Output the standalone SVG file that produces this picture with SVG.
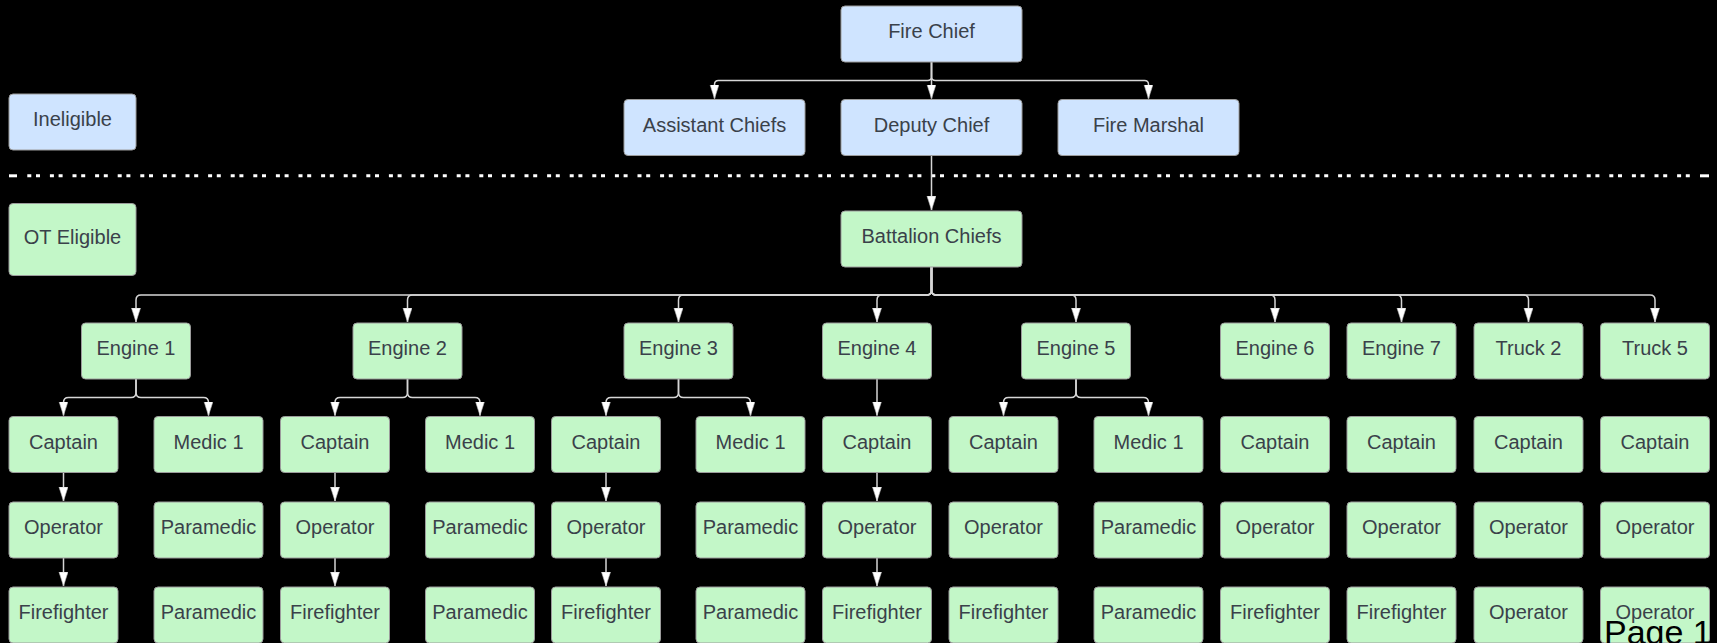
<svg xmlns="http://www.w3.org/2000/svg" width="1717" height="643" viewBox="0 0 1717 643">
  <defs>
    <style>
      .bg { fill: #000000; }
      .box { stroke: #9c9c9c; stroke-width: 1; }
      .blue { fill: #cfe4ff; }
      .green { fill: #c3f7c8; }
      .lbl { font-family: "Liberation Sans", Arial, sans-serif; font-size: 20px; fill: #3a414a; text-anchor: middle; }
      .wire { fill: none; stroke: #d6d6d6; stroke-width: 1.5; marker-end: url(#arrow); }
      .divider { stroke: #ffffff; stroke-width: 3; fill: none; }
      .page { font-family: "Liberation Sans", Arial, sans-serif; font-size: 34px; fill: #000000; }
    </style>
    <marker id="arrow" markerUnits="userSpaceOnUse" markerWidth="15" markerHeight="10" refX="14" refY="4.5" orient="auto">
      <path d="M0,0 L14,4.5 L0,9 Z" fill="#ffffff" stroke="#bdbdbd" stroke-width="0.6"/>
    </marker>
  </defs>

  <rect class="bg" x="0" y="0" width="1717" height="643"/>

  <!-- boundary between the ineligible and overtime-eligible ranks -->
  <g id="divider">
    <line class="divider" x1="9" y1="175.8" x2="17" y2="175.8"/>
    <line class="divider" x1="27.3" y1="175.8" x2="1692" y2="175.8" stroke-dasharray="4 4.7 4 9.9"/>
    <line class="divider" x1="1700" y1="175.8" x2="1709" y2="175.8"/>
  </g>

  <!-- reporting lines -->
  <g id="connectors">
    <path class="wire" d="M931.5 62 V76.5 Q931.5 80.5 927.5 80.5 H718.5 Q714.5 80.5 714.5 84.5 V98.5"/>
    <path class="wire" d="M931.5 62 V98.5"/>
    <path class="wire" d="M931.5 62 V76.5 Q931.5 80.5 935.5 80.5 H1144.5 Q1148.5 80.5 1148.5 84.5 V98.5"/>
    <path class="wire" d="M931.5 155.5 V210"/>

    <path class="wire" d="M931.5 267 V290 Q931.5 295 926.5 295 H141 Q136 295 136 300 V322"/>
    <path class="wire" d="M931.5 267 V290 Q931.5 295 926.5 295 H412.5 Q407.5 295 407.5 300 V322"/>
    <path class="wire" d="M931.5 267 V290 Q931.5 295 926.5 295 H683.5 Q678.5 295 678.5 300 V322"/>
    <path class="wire" d="M931.5 267 V290 Q931.5 295 926.5 295 H882 Q877 295 877 300 V322"/>
    <path class="wire" d="M931.5 267 V290 Q931.5 295 936.5 295 H1071 Q1076 295 1076 300 V322"/>
    <path class="wire" d="M931.5 267 V290 Q931.5 295 936.5 295 H1270 Q1275 295 1275 300 V322"/>
    <path class="wire" d="M931.5 267 V290 Q931.5 295 936.5 295 H1396.5 Q1401.5 295 1401.5 300 V322"/>
    <path class="wire" d="M931.5 267 V290 Q931.5 295 936.5 295 H1523.5 Q1528.5 295 1528.5 300 V322"/>
    <path class="wire" d="M931.5 267 V290 Q931.5 295 936.5 295 H1650 Q1655 295 1655 300 V322"/>

    <path class="wire" d="M136 379 V392.5 Q136 397.5 131 397.5 H68.5 Q63.5 397.5 63.5 402.5 V415.5"/>
    <path class="wire" d="M136 379 V392.5 Q136 397.5 141 397.5 H203.5 Q208.5 397.5 208.5 402.5 V415.5"/>
    <path class="wire" d="M407.5 379 V392.5 Q407.5 397.5 402.5 397.5 H340 Q335 397.5 335 402.5 V415.5"/>
    <path class="wire" d="M407.5 379 V392.5 Q407.5 397.5 412.5 397.5 H475 Q480 397.5 480 402.5 V415.5"/>
    <path class="wire" d="M678.5 379 V392.5 Q678.5 397.5 673.5 397.5 H611 Q606 397.5 606 402.5 V415.5"/>
    <path class="wire" d="M678.5 379 V392.5 Q678.5 397.5 683.5 397.5 H745.5 Q750.5 397.5 750.5 402.5 V415.5"/>
    <path class="wire" d="M877 379 V415.5"/>
    <path class="wire" d="M1076 379 V392.5 Q1076 397.5 1071 397.5 H1008.5 Q1003.5 397.5 1003.5 402.5 V415.5"/>
    <path class="wire" d="M1076 379 V392.5 Q1076 397.5 1081 397.5 H1143.5 Q1148.5 397.5 1148.5 402.5 V415.5"/>

    <path class="wire" d="M63.5 472.5 V501"/>
    <path class="wire" d="M63.5 558 V586"/>
    <path class="wire" d="M335 472.5 V501"/>
    <path class="wire" d="M335 558 V586"/>
    <path class="wire" d="M606 472.5 V501"/>
    <path class="wire" d="M606 558 V586"/>
    <path class="wire" d="M877 472.5 V501"/>
    <path class="wire" d="M877 558 V586"/>
  </g>

  <!-- legend -->
  <g id="legend-ineligible"><rect class="box blue" x="9" y="94" width="127" height="56" rx="4"/><text class="lbl" x="72.5" y="126.3">Ineligible</text></g>
  <g id="legend-ot-eligible"><rect class="box green" x="9" y="203.5" width="127" height="72" rx="4"/><text class="lbl" x="72.5" y="243.8">OT Eligible</text></g>

  <!-- command staff -->
  <g id="fire-chief"><rect class="box blue" x="841" y="6" width="181" height="56" rx="4"/><text class="lbl" x="931.5" y="38.3">Fire Chief</text></g>
  <g id="assistant-chiefs"><rect class="box blue" x="624" y="99.5" width="181" height="56" rx="4"/><text class="lbl" x="714.5" y="131.8">Assistant Chiefs</text></g>
  <g id="deputy-chief"><rect class="box blue" x="841" y="99.5" width="181" height="56" rx="4"/><text class="lbl" x="931.5" y="131.8">Deputy Chief</text></g>
  <g id="fire-marshal"><rect class="box blue" x="1058" y="99.5" width="181" height="56" rx="4"/><text class="lbl" x="1148.5" y="131.8">Fire Marshal</text></g>
  <g id="battalion-chiefs"><rect class="box green" x="841" y="211" width="181" height="56" rx="4"/><text class="lbl" x="931.5" y="243.3">Battalion Chiefs</text></g>

  <!-- apparatus -->
  <g id="engine-1"><rect class="box green" x="81.5" y="323" width="109" height="56" rx="4"/><text class="lbl" x="136" y="355.3">Engine 1</text></g>
  <g id="engine-2"><rect class="box green" x="353" y="323" width="109" height="56" rx="4"/><text class="lbl" x="407.5" y="355.3">Engine 2</text></g>
  <g id="engine-3"><rect class="box green" x="624" y="323" width="109" height="56" rx="4"/><text class="lbl" x="678.5" y="355.3">Engine 3</text></g>
  <g id="engine-4"><rect class="box green" x="822.5" y="323" width="109" height="56" rx="4"/><text class="lbl" x="877" y="355.3">Engine 4</text></g>
  <g id="engine-5"><rect class="box green" x="1021.5" y="323" width="109" height="56" rx="4"/><text class="lbl" x="1076" y="355.3">Engine 5</text></g>
  <g id="engine-6"><rect class="box green" x="1220.5" y="323" width="109" height="56" rx="4"/><text class="lbl" x="1275" y="355.3">Engine 6</text></g>
  <g id="engine-7"><rect class="box green" x="1347" y="323" width="109" height="56" rx="4"/><text class="lbl" x="1401.5" y="355.3">Engine 7</text></g>
  <g id="truck-2"><rect class="box green" x="1474" y="323" width="109" height="56" rx="4"/><text class="lbl" x="1528.5" y="355.3">Truck 2</text></g>
  <g id="truck-5"><rect class="box green" x="1600.5" y="323" width="109" height="56" rx="4"/><text class="lbl" x="1655" y="355.3">Truck 5</text></g>

  <!-- Engine 1 crew -->
  <g id="e1-captain"><rect class="box green" x="9" y="416.5" width="109" height="56" rx="4"/><text class="lbl" x="63.5" y="448.8">Captain</text></g>
  <g id="e1-operator"><rect class="box green" x="9" y="502" width="109" height="56" rx="4"/><text class="lbl" x="63.5" y="534.3">Operator</text></g>
  <g id="e1-firefighter"><rect class="box green" x="9" y="587" width="109" height="56" rx="4"/><text class="lbl" x="63.5" y="619.3">Firefighter</text></g>
  <g id="e1-medic"><rect class="box green" x="154" y="416.5" width="109" height="56" rx="4"/><text class="lbl" x="208.5" y="448.8">Medic 1</text></g>
  <g id="e1-paramedic-a"><rect class="box green" x="154" y="502" width="109" height="56" rx="4"/><text class="lbl" x="208.5" y="534.3">Paramedic</text></g>
  <g id="e1-paramedic-b"><rect class="box green" x="154" y="587" width="109" height="56" rx="4"/><text class="lbl" x="208.5" y="619.3">Paramedic</text></g>

  <!-- Engine 2 crew -->
  <g id="e2-captain"><rect class="box green" x="280.5" y="416.5" width="109" height="56" rx="4"/><text class="lbl" x="335" y="448.8">Captain</text></g>
  <g id="e2-operator"><rect class="box green" x="280.5" y="502" width="109" height="56" rx="4"/><text class="lbl" x="335" y="534.3">Operator</text></g>
  <g id="e2-firefighter"><rect class="box green" x="280.5" y="587" width="109" height="56" rx="4"/><text class="lbl" x="335" y="619.3">Firefighter</text></g>
  <g id="e2-medic"><rect class="box green" x="425.5" y="416.5" width="109" height="56" rx="4"/><text class="lbl" x="480" y="448.8">Medic 1</text></g>
  <g id="e2-paramedic-a"><rect class="box green" x="425.5" y="502" width="109" height="56" rx="4"/><text class="lbl" x="480" y="534.3">Paramedic</text></g>
  <g id="e2-paramedic-b"><rect class="box green" x="425.5" y="587" width="109" height="56" rx="4"/><text class="lbl" x="480" y="619.3">Paramedic</text></g>

  <!-- Engine 3 crew -->
  <g id="e3-captain"><rect class="box green" x="551.5" y="416.5" width="109" height="56" rx="4"/><text class="lbl" x="606" y="448.8">Captain</text></g>
  <g id="e3-operator"><rect class="box green" x="551.5" y="502" width="109" height="56" rx="4"/><text class="lbl" x="606" y="534.3">Operator</text></g>
  <g id="e3-firefighter"><rect class="box green" x="551.5" y="587" width="109" height="56" rx="4"/><text class="lbl" x="606" y="619.3">Firefighter</text></g>
  <g id="e3-medic"><rect class="box green" x="696" y="416.5" width="109" height="56" rx="4"/><text class="lbl" x="750.5" y="448.8">Medic 1</text></g>
  <g id="e3-paramedic-a"><rect class="box green" x="696" y="502" width="109" height="56" rx="4"/><text class="lbl" x="750.5" y="534.3">Paramedic</text></g>
  <g id="e3-paramedic-b"><rect class="box green" x="696" y="587" width="109" height="56" rx="4"/><text class="lbl" x="750.5" y="619.3">Paramedic</text></g>

  <!-- Engine 4 crew -->
  <g id="e4-captain"><rect class="box green" x="822.5" y="416.5" width="109" height="56" rx="4"/><text class="lbl" x="877" y="448.8">Captain</text></g>
  <g id="e4-operator"><rect class="box green" x="822.5" y="502" width="109" height="56" rx="4"/><text class="lbl" x="877" y="534.3">Operator</text></g>
  <g id="e4-firefighter"><rect class="box green" x="822.5" y="587" width="109" height="56" rx="4"/><text class="lbl" x="877" y="619.3">Firefighter</text></g>

  <!-- Engine 5 crew -->
  <g id="e5-captain"><rect class="box green" x="949" y="416.5" width="109" height="56" rx="4"/><text class="lbl" x="1003.5" y="448.8">Captain</text></g>
  <g id="e5-operator"><rect class="box green" x="949" y="502" width="109" height="56" rx="4"/><text class="lbl" x="1003.5" y="534.3">Operator</text></g>
  <g id="e5-firefighter"><rect class="box green" x="949" y="587" width="109" height="56" rx="4"/><text class="lbl" x="1003.5" y="619.3">Firefighter</text></g>
  <g id="e5-medic"><rect class="box green" x="1094" y="416.5" width="109" height="56" rx="4"/><text class="lbl" x="1148.5" y="448.8">Medic 1</text></g>
  <g id="e5-paramedic-a"><rect class="box green" x="1094" y="502" width="109" height="56" rx="4"/><text class="lbl" x="1148.5" y="534.3">Paramedic</text></g>
  <g id="e5-paramedic-b"><rect class="box green" x="1094" y="587" width="109" height="56" rx="4"/><text class="lbl" x="1148.5" y="619.3">Paramedic</text></g>

  <!-- Engine 6 crew -->
  <g id="e6-captain"><rect class="box green" x="1220.5" y="416.5" width="109" height="56" rx="4"/><text class="lbl" x="1275" y="448.8">Captain</text></g>
  <g id="e6-operator"><rect class="box green" x="1220.5" y="502" width="109" height="56" rx="4"/><text class="lbl" x="1275" y="534.3">Operator</text></g>
  <g id="e6-firefighter"><rect class="box green" x="1220.5" y="587" width="109" height="56" rx="4"/><text class="lbl" x="1275" y="619.3">Firefighter</text></g>

  <!-- Engine 7 crew -->
  <g id="e7-captain"><rect class="box green" x="1347" y="416.5" width="109" height="56" rx="4"/><text class="lbl" x="1401.5" y="448.8">Captain</text></g>
  <g id="e7-operator"><rect class="box green" x="1347" y="502" width="109" height="56" rx="4"/><text class="lbl" x="1401.5" y="534.3">Operator</text></g>
  <g id="e7-firefighter"><rect class="box green" x="1347" y="587" width="109" height="56" rx="4"/><text class="lbl" x="1401.5" y="619.3">Firefighter</text></g>

  <!-- Truck 2 crew -->
  <g id="t2-captain"><rect class="box green" x="1474" y="416.5" width="109" height="56" rx="4"/><text class="lbl" x="1528.5" y="448.8">Captain</text></g>
  <g id="t2-operator-a"><rect class="box green" x="1474" y="502" width="109" height="56" rx="4"/><text class="lbl" x="1528.5" y="534.3">Operator</text></g>
  <g id="t2-operator-b"><rect class="box green" x="1474" y="587" width="109" height="56" rx="4"/><text class="lbl" x="1528.5" y="619.3">Operator</text></g>

  <!-- Truck 5 crew -->
  <g id="t5-captain"><rect class="box green" x="1600.5" y="416.5" width="109" height="56" rx="4"/><text class="lbl" x="1655" y="448.8">Captain</text></g>
  <g id="t5-operator-a"><rect class="box green" x="1600.5" y="502" width="109" height="56" rx="4"/><text class="lbl" x="1655" y="534.3">Operator</text></g>
  <g id="t5-operator-b"><rect class="box green" x="1600.5" y="587" width="109" height="56" rx="4"/><text class="lbl" x="1655" y="619.3">Operator</text></g>

  <!-- page footer -->
  <text class="page" x="1604" y="644.3">Page 1</text>
</svg>
